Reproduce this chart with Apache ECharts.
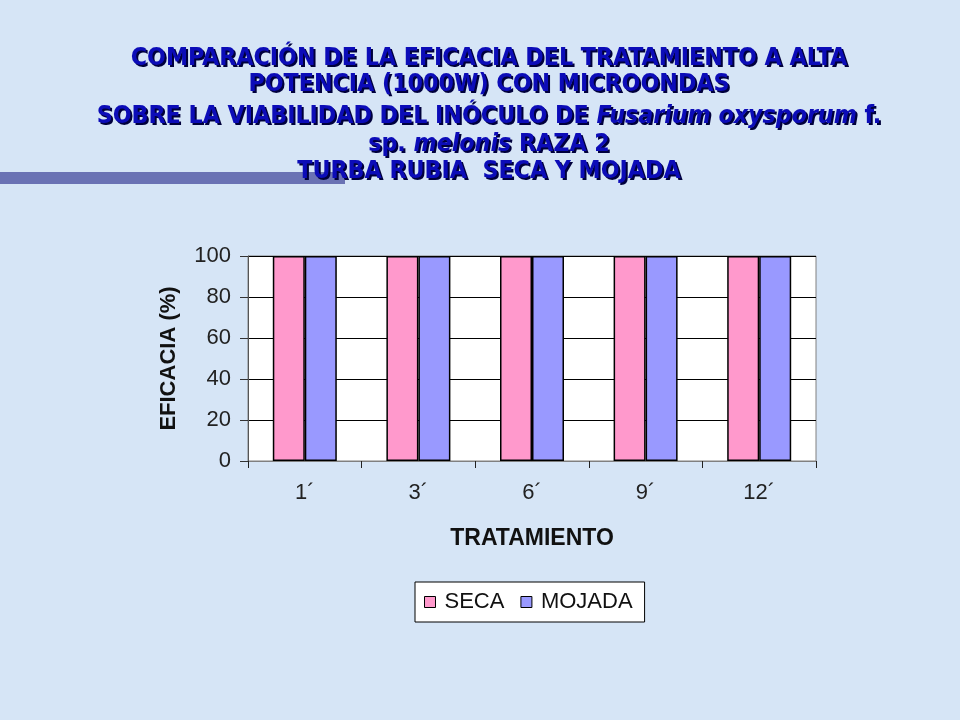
<!DOCTYPE html>
<html><head><meta charset="utf-8">
<script src="https://cdn.jsdelivr.net/npm/echarts@6/dist/echarts.min.js"></script>
<style>html,body{margin:0;padding:0;background:#d6e5f6}#c{width:960px;height:720px}</style>
</head><body><div id="c"></div>
<script>
const categories = ['1´', '3´', '6´', '9´', '12´'];
const seca = [100, 100, 100, 100, 100];
const mojada = [100, 100, 100, 100, 100];
const seriesNames = ['SECA', 'MOJADA'];
const yTicks = {min: 0, max: 100, interval: 20};

const titleLines = [
  '{n|COMPARACIÓN DE LA EFICACIA DEL TRATAMIENTO A ALTA}',
  '{n|POTENCIA (1000W) CON MICROONDAS}',
  '{n|SOBRE LA VIABILIDAD DEL INÓCULO DE }{i|Fusarium oxysporum}{n| f.}',
  '{n|sp. }{i|melonis}{n| RAZA 2}',
  '{n|TURBA RUBIA  SECA Y MOJADA}'
];
const titleY = [59, 85, 117, 145, 172];

const titleColor = '#0c0cb8';
const shadowColor = '#00003c';
const tFam = '"DejaVu Sans Condensed", "DejaVu Sans"';
const tSize = 24.7;
function mkRich(c) {
  return {
    n: {fontFamily: tFam, fontWeight: 'bold', fontSize: tSize, fill: c},
    i: {fontFamily: tFam, fontWeight: 'bold', fontStyle: 'italic', fontSize: tSize, fill: c}
  };
}
function line(x, y, text, c, z) {
  return {type: 'text', x: x, y: y, z: z,
    style: {text: text, align: 'center', verticalAlign: 'middle',
      font: 'bold ' + tSize + 'px ' + tFam, fill: c, rich: mkRich(c)}};
}
const titleGraphics = [];
titleLines.forEach((t, k) => {
  titleGraphics.push(line(491, titleY[k] + 2, t, shadowColor, 9));
  titleGraphics.push(line(489, titleY[k], t, titleColor, 10));
});

const chart = echarts.init(document.getElementById('c'));
chart.setOption({
  backgroundColor: '#d6e5f6',
  animation: false,
  graphic: [
    {type: 'rect', shape: {x: 0, y: 172, width: 345, height: 12}, style: {fill: '#6a72b4'}, z: 1}
  ].concat(titleGraphics),
  grid: {left: 248, right: 144, top: 256, bottom: 259, show: true,
    backgroundColor: '#ffffff', borderColor: '#808080', borderWidth: 1},
  legend: {
    data: seriesNames, left: 415, top: 582, width: 233,
    backgroundColor: '#ffffff', borderColor: '#000000', borderWidth: 1,
    padding: [9, 12, 9, 9], itemGap: 16, itemWidth: 11, itemHeight: 11, icon: 'rect',
    itemStyle: {borderColor: '#000', borderWidth: 1},
    textStyle: {fontFamily: 'Liberation Sans', fontSize: 22, color: '#111', padding: [0, 0, 0, 4]}
  },
  xAxis: {
    type: 'category', data: categories, boundaryGap: true,
    name: 'TRATAMIENTO', nameLocation: 'middle', nameGap: 66,
    nameTextStyle: {fontFamily: 'Liberation Sans', fontWeight: 'bold', fontSize: 23, color: '#111'},
    axisLine: {lineStyle: {color: '#808080', width: 1}},
    axisTick: {show: true, length: 7, lineStyle: {color: '#222'}},
    axisLabel: {fontFamily: 'Liberation Sans', fontSize: 22, color: '#222', margin: 21}
  },
  yAxis: {
    type: 'value', min: yTicks.min, max: yTicks.max, interval: yTicks.interval,
    name: 'EFICACIA (%)', nameLocation: 'middle', nameGap: 68,
    nameTextStyle: {fontFamily: 'Liberation Sans', fontWeight: 'bold', fontSize: 22, color: '#111'},
    axisLine: {show: true, lineStyle: {color: '#555', width: 1}},
    axisTick: {show: true, length: 8, lineStyle: {color: '#333'}},
    axisLabel: {fontFamily: 'Liberation Sans', fontSize: 22, color: '#222', margin: 17},
    splitLine: {lineStyle: {color: '#000', width: 1}}
  },
  series: [
    {name: seriesNames[0], type: 'bar', data: seca, barWidth: 32, barGap: '0%',
      itemStyle: {color: '#ff99cc', borderColor: '#000', borderWidth: 1.5}},
    {name: seriesNames[1], type: 'bar', data: mojada, barWidth: 32, barGap: '0%',
      itemStyle: {color: '#9999ff', borderColor: '#000', borderWidth: 1.5}}
  ]
});
</script></body></html>
